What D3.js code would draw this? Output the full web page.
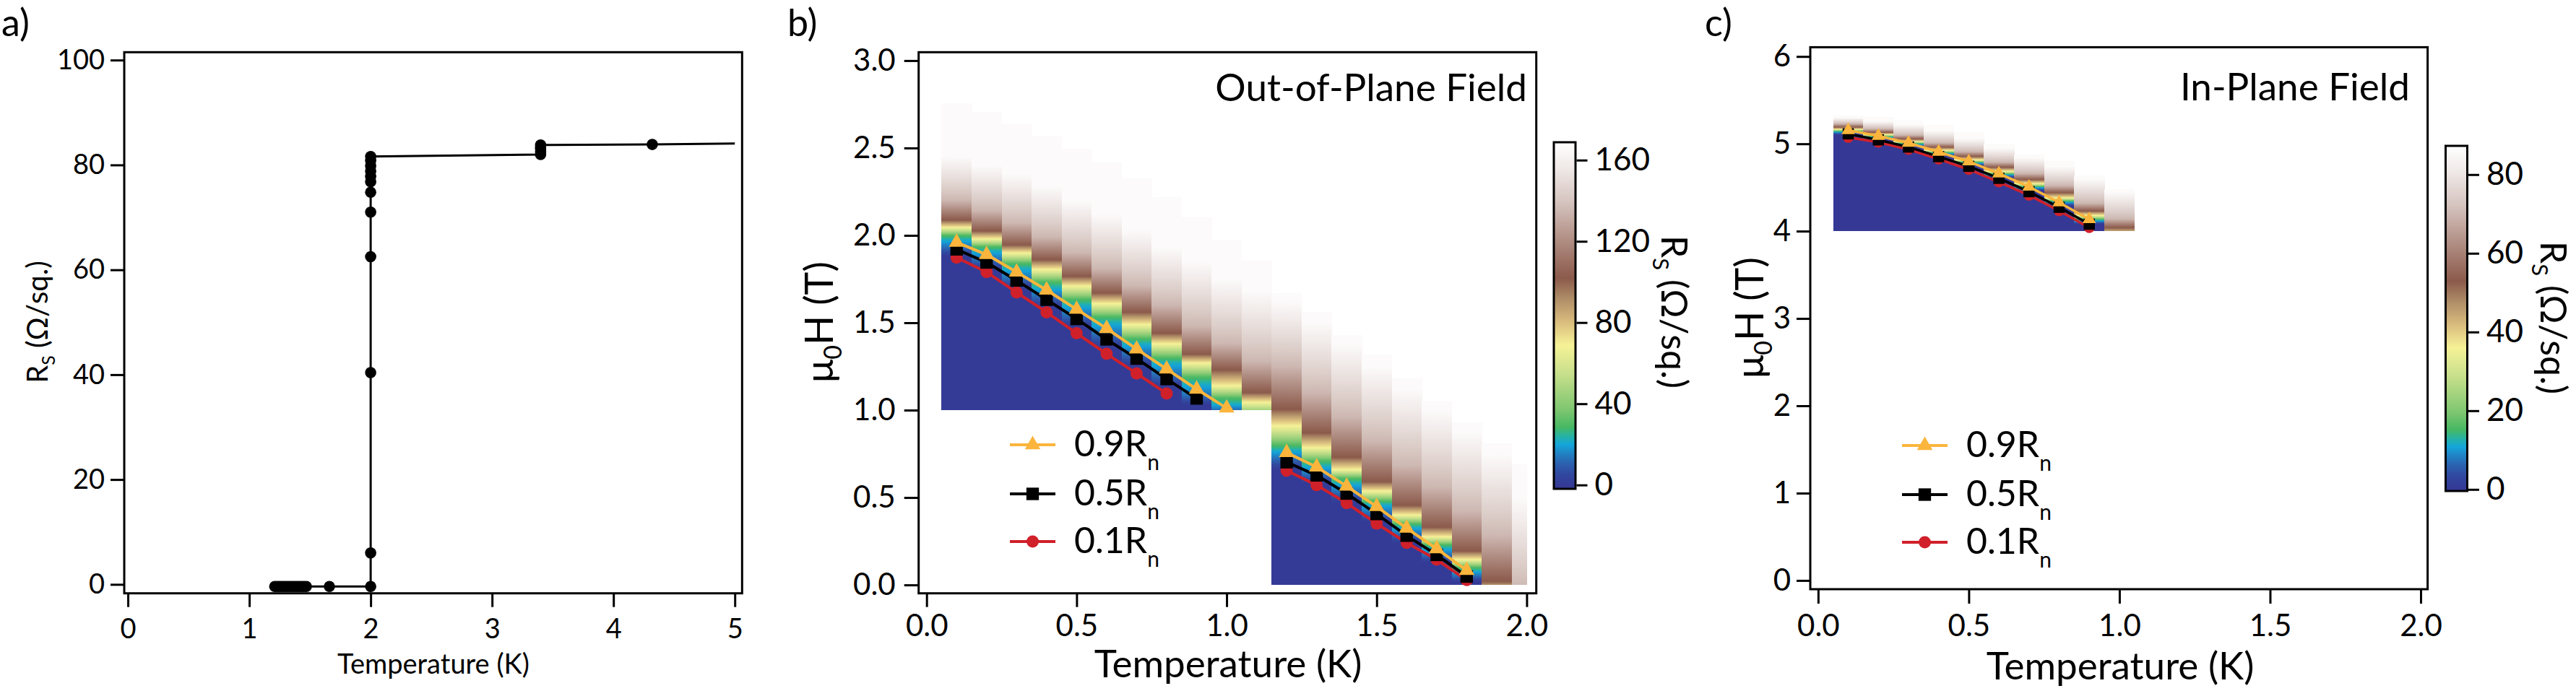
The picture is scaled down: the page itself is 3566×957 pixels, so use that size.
<!DOCTYPE html>
<html>
<head>
<meta charset="utf-8">
<script src="https://cdn.jsdelivr.net/npm/d3@7"></script>
<style>
  body { margin: 0; background: #fff; }
</style>
</head>
<body>
<div id="chart"></div>
<script>
// ---------- panel a: sheet resistance vs temperature ----------
const tempA = [1.21, 1.23, 1.25, 1.27, 1.29, 1.31, 1.33, 1.35, 1.37, 1.39, 1.41, 1.43, 1.45, 1.47, 1.66,
  2.0, 2.0, 2.0, 2.0, 2.0, 2.0, 2.0, 2.0, 2.0, 2.0, 2.0, 2.0,
  3.4, 3.4, 3.4, 3.4, 3.4, 4.32, 5.0];
const rsA = [-0.4, -0.4, -0.4, -0.4, -0.4, -0.4, -0.4, -0.4, -0.4, -0.4, -0.4, -0.4, -0.4, -0.4, -0.4,
  -0.4, 6.0, 40.4, 62.5, 71.0, 74.8, 76.8, 77.8, 78.8, 79.8, 80.8, 81.6,
  82.0, 82.5, 83.0, 83.4, 83.8, 83.9, 84.1];
const xTicksA = [0, 1, 2, 3, 4, 5];
const yTicksA = [0, 20, 40, 60, 80, 100];

// ---------- panel b: out-of-plane field map ----------
const colsB = [0.1, 0.2, 0.3, 0.4, 0.5, 0.6, 0.7, 0.8, 0.9, 1.0, 1.1,
  1.2, 1.3, 1.4, 1.5, 1.6, 1.7, 1.8, 1.9, 2.0];
const floorB = [1, 1, 1, 1, 1, 1, 1, 1, 1, 1, 1, 0, 0, 0, 0, 0, 0, 0, 0, 0];
const topB = [2.755, 2.707, 2.638, 2.565, 2.496, 2.417, 2.325, 2.217, 2.105, 1.97, 1.857,
  1.67, 1.56, 1.43, 1.32, 1.18, 1.05, 0.93, 0.81, 0.69];
// field (T) at which each column reaches the resistance levels below
const levelsB = [0, 12, 22, 30, 69, 102, 135, 166];
const mapB = [
  [1.88, 1.93, 1.975, 2.0, 2.045, 2.087, 2.2, 2.45],
  [1.80, 1.86, 1.91, 1.935, 1.98, 2.025, 2.14, 2.40],
  [1.70, 1.75, 1.81, 1.84, 1.90, 1.945, 2.07, 2.35],
  [1.59, 1.65, 1.70, 1.735, 1.805, 1.86, 1.99, 2.28],
  [1.48, 1.54, 1.60, 1.635, 1.71, 1.765, 1.90, 2.20],
  [1.36, 1.43, 1.50, 1.535, 1.61, 1.67, 1.81, 2.12],
  [1.25, 1.32, 1.38, 1.41, 1.49, 1.56, 1.71, 2.03],
  [1.13, 1.20, 1.27, 1.30, 1.38, 1.44, 1.60, 1.93],
  [1.03, 1.08, 1.15, 1.19, 1.27, 1.32, 1.48, 1.85],
  [0.96, 1.00, 1.035, 1.07, 1.14, 1.23, 1.38, 1.75],
  [0.80, 0.86, 0.94, 0.97, 1.045, 1.10, 1.28, 1.68],
  [0.66, 0.72, 0.77, 0.80, 0.91, 1.005, 1.25, 1.62],
  [0.58, 0.63, 0.68, 0.71, 0.785, 0.87, 1.10, 1.50],
  [0.47, 0.53, 0.58, 0.61, 0.66, 0.73, 0.96, 1.38],
  [0.36, 0.41, 0.46, 0.48, 0.537, 0.59, 0.82, 1.25],
  [0.24, 0.29, 0.33, 0.35, 0.40, 0.455, 0.68, 1.12],
  [0.13, 0.17, 0.21, 0.23, 0.275, 0.33, 0.56, 1.00],
  [0.02, 0.05, 0.08, 0.10, 0.145, 0.194, 0.42, 0.88],
  [-0.20, -0.16, -0.12, -0.10, -0.04, 0.02, 0.28, 0.75],
  [-0.50, -0.45, -0.40, -0.38, -0.30, -0.15, -0.02, 0.50]
];
const t90B1 = [0.1, 0.2, 0.3, 0.4, 0.5, 0.6, 0.7, 0.8, 0.9, 1.0];
const h90B1 = [1.96, 1.89, 1.79, 1.687, 1.577, 1.467, 1.35, 1.235, 1.12, 1.012];
const t50B1 = [0.1, 0.2, 0.3, 0.4, 0.5, 0.6, 0.7, 0.8, 0.9];
const h50B1 = [1.92, 1.845, 1.742, 1.632, 1.522, 1.405, 1.295, 1.178, 1.067];
const t10B1 = [0.1, 0.2, 0.3, 0.4, 0.5, 0.6, 0.7, 0.8];
const h10B1 = [1.873, 1.79, 1.674, 1.56, 1.44, 1.322, 1.21, 1.095];
const tB2 = [1.2, 1.3, 1.4, 1.5, 1.6, 1.7, 1.8];
const h90B2 = [0.757, 0.675, 0.565, 0.448, 0.324, 0.207, 0.083];
const h50B2 = [0.702, 0.627, 0.523, 0.406, 0.282, 0.172, 0.048];
const h10B2 = [0.654, 0.571, 0.468, 0.351, 0.241, 0.145, 0.028];
const xTicksB = [0, 0.5, 1, 1.5, 2];
const yTicksB = [0, 0.5, 1, 1.5, 2, 2.5, 3];
const cbTicksB = [0, 40, 80, 120, 160];

// ---------- panel c: in-plane field map ----------
const colsC = [0.1, 0.2, 0.3, 0.4, 0.5, 0.6, 0.7, 0.8, 0.9, 1.0];
const floorC = [4, 4, 4, 4, 4, 4, 4, 4, 4, 4];
const topC = [5.32, 5.31, 5.27, 5.22, 5.13, 5.0, 4.88, 4.80, 4.64, 4.48];
const levelsC = [0, 6, 11, 15.6, 36, 53, 70, 86];
const mapC = [
  [5.10, 5.12, 5.135, 5.145, 5.165, 5.19, 5.23, 5.30],
  [5.04, 5.06, 5.075, 5.085, 5.105, 5.13, 5.17, 5.26],
  [4.96, 4.98, 4.995, 5.005, 5.025, 5.055, 5.10, 5.22],
  [4.86, 4.875, 4.89, 4.90, 4.925, 4.96, 5.01, 5.15],
  [4.75, 4.765, 4.78, 4.79, 4.815, 4.855, 4.91, 5.06],
  [4.61, 4.63, 4.645, 4.655, 4.685, 4.73, 4.79, 4.95],
  [4.46, 4.48, 4.50, 4.51, 4.545, 4.59, 4.66, 4.84],
  [4.29, 4.31, 4.33, 4.345, 4.38, 4.44, 4.52, 4.74],
  [4.08, 4.10, 4.12, 4.135, 4.18, 4.23, 4.32, 4.60],
  [3.85, 3.87, 3.89, 3.91, 3.96, 4.04, 4.14, 4.45]
];
const tC = [0.1, 0.2, 0.3, 0.4, 0.5, 0.6, 0.7, 0.8, 0.9];
const h90C = [5.155, 5.09, 5.01, 4.908, 4.797, 4.66, 4.508, 4.328, 4.136];
const h50C = [5.114, 5.045, 4.963, 4.853, 4.742, 4.605, 4.452, 4.273, 4.08];
const h10C = [5.073, 5.018, 4.935, 4.825, 4.706, 4.563, 4.411, 4.232, 4.04];
const xTicksC = [0, 0.5, 1, 1.5, 2];
const yTicksC = [0, 1, 2, 3, 4, 5, 6];
const cbTicksC = [0, 20, 40, 60, 80];

const legendLabels = ["0.9R", "0.5R", "0.1R"];

// colour table (position along the bar -> colour)
const cmapPos = [0, 0.04, 0.075, 0.105, 0.128, 0.152, 0.178, 0.225, 0.33, 0.414, 0.48, 0.55, 0.608, 0.71, 0.83, 0.92, 1];
const cmapCol = ["#353794", "#31469e", "#2b63b0", "#1f86c6", "#14a6da", "#26b2a4", "#47b863", "#7cc56f",
  "#c6df8b", "#f6f297", "#dabd7e", "#ae8c67", "#8b5a4b", "#ae8a7f", "#d6c5c0", "#eee7e5", "#ffffff"];

const FONT = "Lato, 'Open Sans', 'Liberation Sans', sans-serif";
const ORANGE = "#fbb53c";
const RED = "#d0202a";

const svg = d3.select("#chart").append("svg")
  .attr("width", 3566).attr("height", 957)
  .style("font-family", FONT);
const defs = svg.append("defs");

const cmap = d3.scaleLinear().domain(cmapPos).range(cmapCol).interpolate(d3.interpolateRgb).clamp(true);

// frame + ticks for one panel
function drawAxes(x, y, o) {
  const [fx0, fx1] = x.range();
  const [fy1, fy0] = y.range();
  const gx = svg.append("g").attr("transform", `translate(0, ${fy1})`)
    .call(d3.axisBottom(x).tickValues(o.xTicks).tickFormat(o.xFmt).tickSize(o.tickX).tickPadding(o.padX));
  const gy = svg.append("g").attr("transform", `translate(${fx0}, 0)`)
    .call(d3.axisLeft(y).tickValues(o.yTicks).tickFormat(o.yFmt).tickSize(o.tickY).tickPadding(o.padY));
  [gx, gy].forEach((g) => {
    g.select(".domain").remove();
    g.attr("font-family", FONT).attr("font-size", o.fs);
    g.selectAll(".tick line").attr("stroke", "#000").attr("stroke-width", 3);
    g.selectAll(".tick text").attr("fill", "#000");
  });
  svg.append("rect")
    .attr("x", fx0).attr("y", fy0)
    .attr("width", fx1 - fx0).attr("height", fy1 - fy0)
    .attr("fill", "none").attr("stroke", "#000").attr("stroke-width", 3);
}

// heat map drawn column by column, colour follows R(H) of each column
function drawMap(id, x, y, cols, floors, tops, levels, table, cbDomain, xMax) {
  const toT = d3.scaleLinear().domain(cbDomain).range([0, 1]).clamp(true);
  const g = svg.append("g").attr("shape-rendering", "crispEdges");
  cols.forEach((T, i) => {
    const hs = table[i];
    const ya = y(hs[0]);
    const yb = y(hs[hs.length - 1]);
    const grad = defs.append("linearGradient")
      .attr("id", `${id}${i}`)
      .attr("gradientUnits", "userSpaceOnUse")
      .attr("x1", 0).attr("x2", 0).attr("y1", ya).attr("y2", yb);
    for (let k = 0; k < levels.length - 1; k++) {
      for (let s = 0; s < 4; s++) {
        const f = s / 4;
        const r = levels[k] + f * (levels[k + 1] - levels[k]);
        const h = hs[k] + f * (hs[k + 1] - hs[k]);
        grad.append("stop").attr("offset", (y(h) - ya) / (yb - ya)).attr("stop-color", cmap(toT(r)));
      }
    }
    grad.append("stop").attr("offset", 1).attr("stop-color", cmap(toT(levels[levels.length - 1])));
    const xl = x(T - 0.05);
    const xr = x(Math.min(T + 0.05, xMax));
    g.append("rect")
      .attr("x", xl).attr("width", xr - xl + 0.6)
      .attr("y", y(tops[i])).attr("height", y(floors[i]) - y(tops[i]))
      .attr("fill", `url(#${id}${i})`);
  });
}

function drawCurve(x, y, ts, hs, color, shape, size, lw) {
  const pts = d3.zip(ts, hs);
  svg.append("path").datum(pts)
    .attr("fill", "none").attr("stroke", color).attr("stroke-width", lw)
    .attr("stroke-linejoin", "round")
    .attr("d", d3.line().x((d) => x(d[0])).y((d) => y(d[1])));
  svg.append("g").selectAll("path").data(pts).join("path")
    .attr("transform", (d) => `translate(${x(d[0])}, ${y(d[1])})`)
    .attr("d", d3.symbol(shape, size))
    .attr("fill", color);
}

function drawColorbar(id, cb, x0, w, ticks) {
  const [yb, yt] = cb.range();
  const grad = defs.append("linearGradient").attr("id", id)
    .attr("gradientUnits", "userSpaceOnUse")
    .attr("x1", 0).attr("x2", 0).attr("y1", yb).attr("y2", yt);
  cmapPos.forEach((p, i) => grad.append("stop").attr("offset", p).attr("stop-color", cmapCol[i]));
  svg.append("rect").attr("x", x0).attr("y", yt).attr("width", w).attr("height", yb - yt)
    .attr("fill", `url(#${id})`).attr("stroke", "#000").attr("stroke-width", 3);
  const g = svg.append("g").attr("transform", `translate(${x0 + w + 1.5}, 0)`)
    .call(d3.axisRight(cb).tickValues(ticks).tickSize(15).tickPadding(10));
  g.select(".domain").remove();
  g.attr("font-family", FONT).attr("font-size", 44);
  g.selectAll(".tick line").attr("stroke", "#000").attr("stroke-width", 3);
  g.selectAll(".tick text").attr("fill", "#000");
}

function drawLegend(lx0, lx1, rows, sizes) {
  const shapes = [d3.symbolTriangle, d3.symbolSquare, d3.symbolCircle];
  const colors = [ORANGE, "#000", RED];
  rows.forEach((ry, i) => {
    svg.append("line").attr("x1", lx0).attr("x2", lx1).attr("y1", ry).attr("y2", ry)
      .attr("stroke", colors[i]).attr("stroke-width", 4);
    svg.append("path").attr("transform", `translate(${(lx0 + lx1) / 2}, ${ry})`)
      .attr("d", d3.symbol(shapes[i], sizes[i])).attr("fill", colors[i]);
    const t = svg.append("text").attr("x", lx1 + 26).attr("y", ry + 16).attr("font-size", 50);
    t.append("tspan").text(legendLabels[i]);
    t.append("tspan").attr("font-size", 30).attr("dy", 19).text("n");
  });
}

function fieldLabel(xb, yc) {
  const t = svg.append("text")
    .attr("transform", `translate(${xb}, ${yc}) rotate(-90)`)
    .attr("text-anchor", "middle").attr("font-size", 54);
  t.append("tspan").text("μ");
  t.append("tspan").attr("font-size", 34).attr("dy", 12).text("0");
  t.append("tspan").attr("dy", -12).text("H (T)");
}

function rsLabel(xb, yc, fs, rot) {
  const t = svg.append("text")
    .attr("transform", `translate(${xb}, ${yc}) rotate(${rot})`)
    .attr("text-anchor", "middle").attr("font-size", fs);
  t.append("tspan").text("R");
  t.append("tspan").attr("font-size", fs * 0.62).attr("dy", fs * 0.25).text("S");
  t.append("tspan").attr("dy", -fs * 0.25).text(" (Ω/sq.)");
}

// ================= panel a =================
const xA = d3.scaleLinear().domain([-0.03, 5.06]).range([172, 1027.3]);
const yA = d3.scaleLinear().domain([-1.7, 101.5]).range([821.7, 72.3]);
const ptsA = d3.zip(tempA, rsA);
svg.append("path").datum(ptsA)
  .attr("fill", "none").attr("stroke", "#000").attr("stroke-width", 3)
  .attr("d", d3.line().x((d) => xA(d[0])).y((d) => yA(d[1])));
svg.append("g").selectAll("circle").data(ptsA.slice(0, -1)).join("circle")
  .attr("cx", (d) => xA(d[0])).attr("cy", (d) => yA(d[1])).attr("r", 7.8).attr("fill", "#000");
drawAxes(xA, yA, {
  xTicks: xTicksA, yTicks: yTicksA, xFmt: d3.format("d"), yFmt: d3.format("d"),
  tickX: 19, tickY: 19, padX: 16, padY: 8, fs: 38
});
svg.append("text").attr("x", 600).attr("y", 933).attr("text-anchor", "middle")
  .attr("font-size", 38).text("Temperature (K)");
rsLabel(66, 446, 40, -90);
svg.append("text").attr("x", 2).attr("y", 50).attr("font-size", 52).text("a)");

// ================= panel b =================
const xB = d3.scaleLinear().domain([-0.0265, 2.032]).range([1271.7, 2126.7]);
const yB = d3.scaleLinear().domain([-0.048, 3.048]).range([821.7, 72.3]);
const cbB = d3.scaleLinear().domain([-1.9, 168.8]).range([677, 197]);
drawMap("mb", xB, yB, colsB, floorB, topB, levelsB, mapB, cbB.domain(), 2.0);
drawCurve(xB, yB, t10B1, h10B1, RED, d3.symbolCircle, 227, 4);
drawCurve(xB, yB, tB2, h10B2, RED, d3.symbolCircle, 227, 4);
drawCurve(xB, yB, t50B1, h50B1, "#000", d3.symbolSquare, 300, 4);
drawCurve(xB, yB, tB2, h50B2, "#000", d3.symbolSquare, 300, 4);
drawCurve(xB, yB, t90B1, h90B1, ORANGE, d3.symbolTriangle, 200, 4);
drawCurve(xB, yB, tB2, h90B2, ORANGE, d3.symbolTriangle, 200, 4);
drawAxes(xB, yB, {
  xTicks: xTicksB, yTicks: yTicksB, xFmt: d3.format(".1f"), yFmt: d3.format(".1f"),
  tickX: 19, tickY: 20, padX: 10, padY: 12, fs: 42
});
svg.append("text").attr("x", 1700).attr("y", 938).attr("text-anchor", "middle")
  .attr("font-size", 53).text("Temperature (K)");
fieldLabel(1153, 446);
svg.append("text").attr("x", 2114).attr("y", 140).attr("text-anchor", "end")
  .attr("font-size", 53).text("Out-of-Plane Field");
drawLegend(1398, 1461, [616, 684, 750], [200, 300, 227]);
drawColorbar("cbb", cbB, 2151, 30, cbTicksB);
rsLabel(2300, 432, 50, 90);
svg.append("text").attr("x", 1090).attr("y", 50).attr("font-size", 52).text("b)");

// ================= panel c =================
const xC = d3.scaleLinear().domain([-0.026, 2.023]).range([2506, 3360.6]);
const yC = d3.scaleLinear().domain([-0.1, 6.106]).range([816, 65.4]);
const cbC = d3.scaleLinear().domain([-0.4, 87.3]).range([680, 202]);
drawMap("mc", xC, yC, colsC, floorC, topC, levelsC, mapC, cbC.domain(), 2.0);
drawCurve(xC, yC, tC, h10C, RED, d3.symbolCircle, 177, 3.5);
drawCurve(xC, yC, tC, h50C, "#000", d3.symbolSquare, 240, 3.5);
drawCurve(xC, yC, tC, h90C, ORANGE, d3.symbolTriangle, 150, 3.5);
drawAxes(xC, yC, {
  xTicks: xTicksC, yTicks: yTicksC, xFmt: d3.format(".1f"), yFmt: d3.format("d"),
  tickX: 20, tickY: 19, padX: 15, padY: 8, fs: 42
});
svg.append("text").attr("x", 2935).attr("y", 941).attr("text-anchor", "middle")
  .attr("font-size", 53).text("Temperature (K)");
fieldLabel(2441, 440);
svg.append("text").attr("x", 3336).attr("y", 139).attr("text-anchor", "end")
  .attr("font-size", 53).text("In-Plane Field");
drawLegend(2633, 2696, [617, 685, 751], [200, 300, 227]);
drawColorbar("cbc", cbC, 3385.5, 30, cbTicksC);
rsLabel(3517, 440, 50, 90);
svg.append("text").attr("x", 2360).attr("y", 50).attr("font-size", 52).text("c)");
</script>
</body>
</html>
